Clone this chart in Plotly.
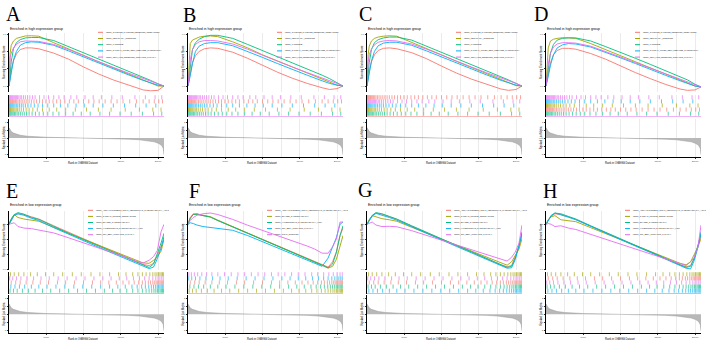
import plotly.graph_objects as go

W, H = 708, 344
N_GENES = 20800

# ---------------- data ----------------
TOP_SETS = ["KEGG_CYTOKINE_CYTOKINE_RECEPTOR_INTERACTION", "KEGG_LEISHMANIA_INFECTION",
            "KEGG_LYSOSOME", "KEGG_NATURAL_KILLER_CELL_MEDIATED_CYTOTOXICITY",
            "KEGG_TOLL_LIKE_RECEPTOR_SIGNALING_PATHWAY"]
LOW_SETS = ["KEGG_ARRHYTHMOGENIC_RIGHT_VENTRICULAR_CARDIOMYOPATHY_ARVC", "KEGG_CARDIAC_MUSCLE_CONTRACTION",
            "KEGG_DILATED_CARDIOMYOPATHY", "KEGG_HYPERTROPHIC_CARDIOMYOPATHY_HCM",
            "KEGG_TGF_BETA_SIGNALING_PATHWAY"]
F_SETS = ["KEGG_ARRHYTHMOGENIC_RIGHT_VENTRICULAR_CARDIOMYOPATHY_ARVC", "KEGG_DILATED_CARDIOMYOPATHY",
          "KEGG_HYPERTROPHIC_CARDIOMYOPATHY_HCM", "KEGG_TGF_BETA_SIGNALING_PATHWAY", "KEGG_TIGHT_JUNCTION"]

RANK_TOP = [0, 150, 300, 600, 1000, 1500, 2200, 3000, 4000, 6000, 8000, 10000, 12000, 14000, 16000, 18000, 19000, 20000, 20800]
RANK_BOT = [0, 300, 700, 1200, 2000, 3000, 4000, 6000, 8000, 10000, 12000, 14000, 16000, 17000, 18000, 18800, 19400, 19900, 20400, 20800]

A_CYTOKINE = [0, 0.10, 0.18, 0.29, 0.37, 0.42, 0.44, 0.44, 0.43, 0.38, 0.31, 0.22, 0.14, 0.07, 0.01, -0.045, -0.055, -0.05, 0.0]
A_LEISHMANIA = [0, 0.38, 0.47, 0.52, 0.55, 0.565, 0.578, 0.58, 0.575, 0.50, 0.43, 0.355, 0.28, 0.21, 0.14, 0.07, 0.035, 0.0, 0.0]
A_LYSOSOME = [0, 0.15, 0.28, 0.43, 0.50, 0.535, 0.555, 0.56, 0.56, 0.525, 0.455, 0.385, 0.315, 0.245, 0.175, 0.105, 0.065, 0.025, 0.0]
A_NK = [0, 0.08, 0.16, 0.30, 0.40, 0.47, 0.50, 0.51, 0.505, 0.47, 0.405, 0.335, 0.265, 0.195, 0.13, 0.065, 0.035, 0.01, 0.0]
A_TOLL = [0, 0.33, 0.38, 0.44, 0.48, 0.51, 0.52, 0.52, 0.515, 0.48, 0.42, 0.35, 0.28, 0.215, 0.15, 0.09, 0.055, 0.03, 0.0]

B_CYTOKINE = [0, 0.08, 0.16, 0.27, 0.35, 0.40, 0.43, 0.44, 0.435, 0.39, 0.32, 0.24, 0.16, 0.09, 0.03, -0.02, -0.04, -0.03, 0.0]
B_LEISHMANIA = [0, 0.35, 0.49, 0.53, 0.55, 0.565, 0.575, 0.578, 0.57, 0.51, 0.44, 0.36, 0.29, 0.22, 0.15, 0.08, 0.045, 0.01, 0.0]
B_LYSOSOME = [0, 0.12, 0.25, 0.42, 0.50, 0.54, 0.57, 0.585, 0.585, 0.55, 0.48, 0.41, 0.34, 0.27, 0.20, 0.125, 0.085, 0.04, 0.0]
B_NK = [0, 0.05, 0.12, 0.26, 0.40, 0.46, 0.49, 0.50, 0.50, 0.465, 0.40, 0.33, 0.26, 0.19, 0.125, 0.06, 0.03, 0.01, 0.0]
B_TOLL = [0, 0.20, 0.30, 0.42, 0.48, 0.51, 0.525, 0.525, 0.52, 0.485, 0.425, 0.355, 0.285, 0.22, 0.155, 0.095, 0.06, 0.03, 0.0]

C_CYTOKINE = [0, 0.09, 0.17, 0.28, 0.36, 0.41, 0.435, 0.44, 0.43, 0.385, 0.315, 0.23, 0.15, 0.08, 0.02, -0.035, -0.05, -0.04, 0.0]
C_LEISHMANIA = [0, 0.36, 0.46, 0.52, 0.55, 0.565, 0.575, 0.58, 0.575, 0.505, 0.435, 0.36, 0.285, 0.215, 0.145, 0.075, 0.04, 0.005, 0.0]
C_LYSOSOME = [0, 0.14, 0.27, 0.42, 0.50, 0.535, 0.555, 0.565, 0.565, 0.53, 0.46, 0.39, 0.32, 0.25, 0.18, 0.11, 0.07, 0.03, 0.0]
C_NK = [0, 0.07, 0.15, 0.29, 0.40, 0.465, 0.495, 0.505, 0.505, 0.47, 0.405, 0.335, 0.265, 0.195, 0.13, 0.065, 0.035, 0.01, 0.0]
C_TOLL = [0, 0.28, 0.36, 0.43, 0.475, 0.505, 0.52, 0.525, 0.52, 0.485, 0.425, 0.355, 0.285, 0.22, 0.155, 0.095, 0.06, 0.03, 0.0]

D_CYTOKINE = [0, 0.07, 0.15, 0.27, 0.36, 0.41, 0.435, 0.435, 0.425, 0.375, 0.31, 0.23, 0.155, 0.085, 0.02, -0.035, -0.05, -0.045, -0.01]
D_LEISHMANIA = [0, 0.30, 0.44, 0.52, 0.54, 0.55, 0.557, 0.555, 0.55, 0.49, 0.42, 0.35, 0.28, 0.21, 0.14, 0.07, 0.035, 0.0, -0.01]
D_LYSOSOME = [0, 0.10, 0.22, 0.38, 0.48, 0.53, 0.55, 0.557, 0.555, 0.52, 0.455, 0.39, 0.32, 0.25, 0.18, 0.11, 0.07, 0.02, -0.01]
D_NK = [0, 0.05, 0.11, 0.24, 0.36, 0.44, 0.475, 0.49, 0.485, 0.45, 0.39, 0.325, 0.26, 0.19, 0.125, 0.06, 0.03, 0.0, -0.01]
D_TOLL = [0, 0.15, 0.25, 0.38, 0.45, 0.485, 0.50, 0.50, 0.495, 0.46, 0.40, 0.335, 0.27, 0.205, 0.14, 0.08, 0.045, 0.015, -0.01]

E_ARVC = [0, 0.06, 0.12, 0.14, 0.13, 0.10, 0.07, -0.02, -0.11, -0.195, -0.28, -0.365, -0.45, -0.49, -0.535, -0.55, -0.52, -0.42, -0.30, -0.20]
E_CARDIAC = [0, 0.07, 0.13, 0.09, 0.07, 0.055, 0.04, -0.04, -0.12, -0.20, -0.28, -0.36, -0.44, -0.48, -0.515, -0.52, -0.48, -0.43, -0.36, -0.20]
E_DILATED = [0, 0.07, 0.13, 0.155, 0.135, 0.09, 0.065, -0.03, -0.12, -0.205, -0.29, -0.375, -0.46, -0.50, -0.545, -0.575, -0.53, -0.40, -0.25, -0.12]
E_HCM = [0, 0.06, 0.12, 0.14, 0.12, 0.08, 0.05, -0.045, -0.135, -0.22, -0.305, -0.39, -0.475, -0.515, -0.56, -0.59, -0.57, -0.46, -0.32, -0.16]
E_TGF = [0, 0.01, 0.02, -0.03, -0.05, -0.058, -0.08, -0.115, -0.18, -0.245, -0.31, -0.38, -0.45, -0.49, -0.515, -0.48, -0.43, -0.35, -0.10, 0.0]

F_ARVC = [0, 0.09, 0.14, 0.13, 0.115, 0.10, 0.05, -0.035, -0.12, -0.20, -0.285, -0.37, -0.455, -0.50, -0.54, -0.57, -0.50, -0.37, -0.15, -0.05]
F_DILATED = [0, 0.08, 0.13, 0.14, 0.12, 0.10, 0.055, -0.03, -0.115, -0.20, -0.285, -0.37, -0.455, -0.50, -0.545, -0.585, -0.56, -0.47, -0.28, -0.15]
F_HCM = [0, 0.08, 0.13, 0.135, 0.115, 0.095, 0.05, -0.035, -0.12, -0.205, -0.29, -0.375, -0.46, -0.505, -0.55, -0.58, -0.53, -0.38, -0.15, -0.02]
F_TGF = [0, 0.02, 0.01, -0.01, -0.03, -0.04, -0.05, -0.08, -0.15, -0.23, -0.32, -0.40, -0.48, -0.52, -0.56, -0.45, -0.30, -0.18, 0.0, 0.03]
F_TIGHT = [0, 0.05, 0.09, 0.12, 0.14, 0.15, 0.13, 0.065, -0.012, -0.08, -0.15, -0.22, -0.29, -0.33, -0.385, -0.385, -0.30, -0.20, 0.03, 0.03]

G_ARVC = [0, 0.06, 0.115, 0.15, 0.135, 0.10, 0.065, -0.025, -0.115, -0.20, -0.285, -0.37, -0.455, -0.50, -0.54, -0.565, -0.55, -0.43, -0.30, -0.14]
G_CARDIAC = [0, 0.06, 0.115, 0.10, 0.075, 0.06, 0.04, -0.04, -0.12, -0.20, -0.28, -0.36, -0.44, -0.48, -0.52, -0.545, -0.50, -0.42, -0.33, -0.19]
G_DILATED = [0, 0.06, 0.12, 0.155, 0.14, 0.105, 0.07, -0.02, -0.11, -0.195, -0.28, -0.365, -0.45, -0.495, -0.54, -0.575, -0.56, -0.45, -0.28, -0.12]
G_HCM = [0, 0.05, 0.11, 0.145, 0.125, 0.09, 0.055, -0.035, -0.125, -0.21, -0.295, -0.38, -0.465, -0.51, -0.555, -0.585, -0.58, -0.47, -0.28, -0.10]
G_TGF = [0, 0.01, 0.03, -0.01, -0.03, -0.027, -0.033, -0.085, -0.148, -0.212, -0.276, -0.34, -0.40, -0.435, -0.467, -0.49, -0.44, -0.37, -0.25, -0.01]

H_ARVC = [0, 0.06, 0.11, 0.14, 0.13, 0.10, 0.065, -0.025, -0.115, -0.20, -0.285, -0.37, -0.455, -0.50, -0.54, -0.565, -0.55, -0.45, -0.30, -0.15]
H_CARDIAC = [0, 0.06, 0.10, 0.115, 0.06, 0.05, 0.035, -0.045, -0.125, -0.205, -0.285, -0.365, -0.445, -0.485, -0.52, -0.54, -0.50, -0.40, -0.30, -0.19]
H_DILATED = [0, 0.06, 0.12, 0.15, 0.14, 0.105, 0.07, -0.02, -0.11, -0.195, -0.28, -0.365, -0.45, -0.495, -0.54, -0.575, -0.56, -0.45, -0.28, -0.12]
H_HCM = [0, 0.05, 0.11, 0.15, 0.13, 0.095, 0.06, -0.03, -0.12, -0.205, -0.29, -0.375, -0.46, -0.505, -0.55, -0.585, -0.595, -0.48, -0.30, -0.10]
H_TGF = [0, 0.01, 0.0, -0.03, -0.02, -0.05, -0.069, -0.133, -0.198, -0.262, -0.327, -0.392, -0.456, -0.49, -0.52, -0.55, -0.50, -0.44, -0.30, -0.01]

# gene-set hit positions (rank in ordered list)
CYTOKINE_HITS = [30, 90, 170, 260, 360, 470, 590, 720, 870, 1030, 1200, 1400, 1620, 1860, 2120, 2400, 2700, 3000, 3350, 3700,
                 4100, 4500, 4950, 5400, 5900, 6400, 6900, 7500, 8100, 8700, 9300, 10000, 10700, 11400, 12100, 12900, 13700,
                 14500, 15300, 16200, 17100, 18000, 18800, 19500, 20100, 20600]
LEISHMANIA_HITS = [20, 70, 130, 200, 290, 390, 510, 640, 800, 970, 1160, 1380, 1650, 1950, 2300, 2700, 3200, 3800, 4500,
                   5400, 6400, 7600, 8900, 10400, 12000, 13700, 15600, 17500, 19300, 20400]
LYSOSOME_HITS = [80, 180, 300, 430, 570, 730, 900, 1090, 1300, 1530, 1780, 2050, 2350, 2700, 3100, 3550, 4050, 4600, 5200,
                 5900, 6700, 7600, 8600, 9700, 10900, 12200, 13500, 14900, 16400, 17900, 19400, 20500]
NK_HITS = [60, 150, 250, 370, 500, 650, 800, 980, 1180, 1400, 1650, 1900, 2200, 2550, 2950, 3400, 3900, 4500, 5200, 6000,
           6900, 7900, 9000, 10100, 11300, 12600, 14000, 15500, 17000, 18400, 19700]
TOLL_HITS = [40, 120, 210, 330, 460, 580, 720, 860, 1000, 1150, 1320, 1500, 1700, 1950, 2200, 2500, 2800, 3150, 3500, 4100,
             4700, 5300, 6000, 6700, 7400, 8300, 9100, 10200, 11300, 12400, 13800, 15200, 16900, 18300, 19600, 20500]
ARVC_HITS = [300, 900, 1500, 2300, 3200, 4200, 5300, 6500, 7600, 8800, 10000, 11200, 12300, 13400, 14400, 15300, 16100,
             16800, 17400, 17900, 18300, 18700, 19000, 19300, 19550, 19750, 19950, 20100, 20250, 20400, 20520, 20640, 20750]
CARDIAC_HITS = [200, 700, 1300, 2000, 2900, 3800, 4900, 6000, 7200, 8500, 9700, 11000, 12200, 13500, 14700, 15700, 16600,
                17300, 17900, 18400, 18900, 19300, 19600, 19850, 20050, 20250, 20430, 20600, 20720]
DILATED_HITS = [150, 600, 1100, 1800, 2600, 3500, 4500, 5600, 6800, 8000, 9200, 10400, 11600, 12800, 13900, 14900, 15800,
                16600, 17300, 17900, 18400, 18800, 19150, 19450, 19700, 19920, 20100, 20280, 20450, 20600, 20730]
HCM_HITS = [250, 800, 1400, 2100, 3000, 4000, 5100, 6300, 7500, 8700, 9900, 11100, 12300, 13500, 14600, 15600, 16500,
            17200, 17800, 18300, 18750, 19100, 19400, 19680, 19900, 20080, 20250, 20420, 20570, 20700]
TGF_HITS = [100, 500, 1000, 1600, 2400, 3300, 4300, 5400, 6600, 7800, 9000, 10200, 11400, 12600, 13700, 14800, 15800,
            16700, 17500, 18200, 18800, 19300, 19700, 20000, 20250, 20500, 20700]
TIGHT_HITS = [120, 450, 850, 1300, 1850, 2500, 3200, 4000, 4900, 5800, 6700, 7600, 8500, 9400, 10300, 11200, 12100, 13000,
              13900, 14800, 15700, 16600, 17400, 18200, 18900, 19500, 20000, 20400, 20700]

# ranked list metric
METRIC_RANK = [1, 100, 300, 600, 1000, 1500, 2500, 3500, 5000, 7000, 9000, 10500, 12000, 14000, 16000, 17500, 18700,
               19500, 20100, 20500, 20700, 20800]
METRIC_VALUE = [1.3, 1.05, 0.8, 0.62, 0.48, 0.35, 0.22, 0.15, 0.09, 0.05, 0.02, 0.0, -0.03, -0.07, -0.14, -0.22, -0.33,
                -0.48, -0.68, -0.95, -1.3, -2.1]

X_TICKS = [5000, 10000, 15000, 20000]
ES_TICKS_HIGH = [0.0, 0.2, 0.4, 0.6]
ES_TICKS_LOW = [-0.6, -0.4, -0.2, 0.0]
METRIC_TICKS = [-2, -1, 0, 1, 2]

HUE = ["#F8766D", "#A3A500", "#00BF7D", "#00B0F6", "#E76BF3"]

TOP_HITS = [CYTOKINE_HITS, LEISHMANIA_HITS, LYSOSOME_HITS, NK_HITS, TOLL_HITS]
LOW_HITS = [ARVC_HITS, CARDIAC_HITS, DILATED_HITS, HCM_HITS, TGF_HITS]
FF_HITS = [ARVC_HITS, DILATED_HITS, HCM_HITS, TGF_HITS, TIGHT_HITS]

PANELS = [
    ("A", "high", TOP_SETS, RANK_TOP, [A_CYTOKINE, A_LEISHMANIA, A_LYSOSOME, A_NK, A_TOLL], TOP_HITS, [4, 0, 3, 1, 2]),
    ("B", "high", TOP_SETS, RANK_TOP, [B_CYTOKINE, B_LEISHMANIA, B_LYSOSOME, B_NK, B_TOLL], TOP_HITS, [4, 0, 3, 1, 2]),
    ("C", "high", TOP_SETS, RANK_TOP, [C_CYTOKINE, C_LEISHMANIA, C_LYSOSOME, C_NK, C_TOLL], TOP_HITS, [0, 4, 3, 1, 2]),
    ("D", "high", TOP_SETS, RANK_TOP, [D_CYTOKINE, D_LEISHMANIA, D_LYSOSOME, D_NK, D_TOLL], TOP_HITS, [4, 3, 1, 0, 2]),
    ("E", "low", LOW_SETS, RANK_BOT, [E_ARVC, E_CARDIAC, E_DILATED, E_HCM, E_TGF], LOW_HITS, [1, 4, 0, 3, 2]),
    ("F", "low", F_SETS, RANK_BOT, [F_ARVC, F_DILATED, F_HCM, F_TGF, F_TIGHT], FF_HITS, [4, 3, 0, 2, 1]),
    ("G", "low", LOW_SETS, RANK_BOT, [G_ARVC, G_CARDIAC, G_DILATED, G_HCM, G_TGF], LOW_HITS, [1, 4, 0, 2, 3]),
    ("H", "low", LOW_SETS, RANK_BOT, [H_ARVC, H_CARDIAC, H_DILATED, H_HCM, H_TGF], LOW_HITS, [1, 0, 4, 2, 3]),
]

# ---------------- layout geometry (pixels) ----------------
COL_X0 = [9, 188, 367, 546]
PW = 155
ROW_Y0 = [0, 176]
LETTER_X = [4, 181, 357, 532, 4, 187, 356, 541]
LETTER_TOP = [0.5, 1.5, 1, 1, 178, 178, 177, 178]
GEOM = {
    "high": dict(es=(33, 92), rug=(95, 117), rk=(118.5, 157), es_range=[-0.069, 0.612], es_ticks=ES_TICKS_HIGH,
                 leg_y=32.3, leg_dy=6.2, leg_dx=89, title_y=29),
    "low": dict(es=(35, 94), rug=(96, 118), rk=(119, 157), es_range=[-0.609, 0.177], es_ticks=ES_TICKS_LOW,
                leg_y=34.3, leg_dy=6.1, leg_dx=79, title_y=29.5),
}
FONT = "Liberation Sans, Arial, sans-serif"
GRID = "#EBEBEB"


def px(xp):
    return xp / W


def py(yp):
    return 1 - yp / H


fig = go.Figure()
layout = {}
annotations = []
shapes = []


def sfx(n):
    return "" if n == 1 else str(n)


tick_font = dict(size=2.4, color="#4D4D4D", family=FONT)
xgrid = dict(range=[0, N_GENES], tick0=0, dtick=5000, showgrid=True, gridcolor=GRID, gridwidth=0.6,
             minor=dict(dtick=2500, showgrid=True, gridcolor=GRID, gridwidth=0.35), zeroline=False,
             automargin=False, fixedrange=True)

for k, (letter, grp, sets, rank, curves, hits, rug_order) in enumerate(PANELS):
    col, row = k % 4, k // 4
    x0 = COL_X0[col]
    oy = ROW_Y0[row]
    g = GEOM[grp]
    xdom = [px(x0), px(x0 + PW)]
    n_es, n_rug, n_rk = 3 * k + 1, 3 * k + 2, 3 * k + 3

    # ES panel
    layout["xaxis" + sfx(n_es)] = dict(domain=xdom, anchor="y" + sfx(n_es), showticklabels=False, ticks="",
                                       showline=False, **xgrid)
    layout["yaxis" + sfx(n_es)] = dict(domain=[py(oy + g["es"][1]), py(oy + g["es"][0])], anchor="x" + sfx(n_es),
                                       range=g["es_range"], tickvals=g["es_ticks"],
                                       ticktext=[f"{v:.1f}" for v in g["es_ticks"]], showline=True,
                                       linecolor="black", linewidth=0.5, ticks="outside", ticklen=1.5,
                                       tickwidth=0.4, tickcolor="#333333", tickfont=tick_font, showgrid=False,
                                       zeroline=False, automargin=False, fixedrange=True)
    for i, ys in enumerate(curves):
        fig.add_trace(go.Scatter(x=rank, y=ys, mode="lines", line=dict(color=HUE[i], width=0.9),
                                 xaxis="x" + sfx(n_es), yaxis="y" + sfx(n_es), showlegend=False,
                                 hoverinfo="skip"))

    # rug panel
    layout["xaxis" + sfx(n_rug)] = dict(domain=xdom, anchor="y" + sfx(n_rug), showticklabels=False, ticks="",
                                        showline=False, **xgrid)
    layout["yaxis" + sfx(n_rug)] = dict(domain=[py(oy + g["rug"][1]), py(oy + g["rug"][0])],
                                        anchor="x" + sfx(n_rug), range=[-0.3, 5.05], showline=True,
                                        linecolor="black", linewidth=0.5, ticks="", showticklabels=False,
                                        showgrid=False, zeroline=False, automargin=False, fixedrange=True)
    for pos, si in enumerate(rug_order):
        level = 4 - pos
        xs, ys = [], []
        for h in hits[si]:
            xs += [h, h, None]
            ys += [level, level + 1, None]
        fig.add_trace(go.Scatter(x=xs, y=ys, mode="lines", line=dict(color=HUE[si], width=0.8), opacity=0.8,
                                 xaxis="x" + sfx(n_rug), yaxis="y" + sfx(n_rug), showlegend=False,
                                 hoverinfo="skip"))
    fig.add_trace(go.Scatter(x=[0, N_GENES], y=[-0.2, -0.2], mode="lines",
                             line=dict(color=HUE[rug_order[0]], width=0.7), opacity=0.8,
                             xaxis="x" + sfx(n_rug), yaxis="y" + sfx(n_rug), showlegend=False, hoverinfo="skip"))

    # ranked list metric panel
    layout["xaxis" + sfx(n_rk)] = dict(domain=xdom, anchor="y" + sfx(n_rk), tickvals=X_TICKS,
                                       ticktext=[str(v) for v in X_TICKS], showline=True, linecolor="black",
                                       linewidth=0.5, ticks="outside", ticklen=1.5, tickwidth=0.4,
                                       tickcolor="#333333", tickfont=tick_font, **xgrid)
    layout["yaxis" + sfx(n_rk)] = dict(domain=[py(oy + g["rk"][1]), py(oy + g["rk"][0])], anchor="x" + sfx(n_rk),
                                       range=[-2.375, 2.44], tickvals=METRIC_TICKS,
                                       ticktext=[str(v) for v in METRIC_TICKS], showline=True, linecolor="black",
                                       linewidth=0.5, ticks="outside", ticklen=1.5, tickwidth=0.4,
                                       tickcolor="#333333", tickfont=tick_font, showgrid=False, zeroline=False,
                                       automargin=False, fixedrange=True)
    fig.add_trace(go.Scatter(x=METRIC_RANK, y=METRIC_VALUE, mode="lines", fill="tozeroy", fillcolor="#B8B8B8",
                             line=dict(color="#999999", width=0.5), xaxis="x" + sfx(n_rk),
                             yaxis="y" + sfx(n_rk), showlegend=False, hoverinfo="skip"))

    # texts
    annotations.append(dict(text=letter, x=px(LETTER_X[k]), y=py(LETTER_TOP[k]), xanchor="left", yanchor="top",
                            font=dict(family="Liberation Serif, Times New Roman, serif", size=20, color="black")))
    annotations.append(dict(text=f"Enriched in {grp} expression group", x=px(x0 - 1), y=py(oy + g["title_y"]),
                            xanchor="left", yanchor="middle", font=dict(family=FONT, size=3.5, color="black")))
    es_mid = oy + (g["es"][0] + g["es"][1]) / 2
    rk_mid = oy + (g["rk"][0] + g["rk"][1]) / 2
    annotations.append(dict(text="Running Enrichment Score", x=px(x0 - 5.5), y=py(es_mid), textangle=-90,
                            xanchor="center", yanchor="middle", font=dict(family=FONT, size=2.8, color="black")))
    annotations.append(dict(text="Ranked List Metric", x=px(x0 - 5.5), y=py(rk_mid), textangle=-90,
                            xanchor="center", yanchor="middle", font=dict(family=FONT, size=2.8, color="black")))
    annotations.append(dict(text="Rank in Ordered Dataset", x=px(x0 + PW / 2 - 4), y=py(oy + 163),
                            xanchor="center", yanchor="middle", font=dict(family=FONT, size=2.7, color="black")))
    # legend
    for i, name in enumerate(sets):
        yy = oy + g["leg_y"] + g["leg_dy"] * i
        lx = x0 + g["leg_dx"]
        shapes.append(dict(type="line", xref="paper", yref="paper", x0=px(lx), x1=px(lx + 5), y0=py(yy), y1=py(yy),
                           line=dict(color=HUE[i], width=1)))
        annotations.append(dict(text=name, x=px(lx + 6), y=py(yy), xanchor="left", yanchor="middle",
                                font=dict(family=FONT, size=1.95, color="#1A1A1A")))

for a in annotations:
    a.update(xref="paper", yref="paper", showarrow=False)

fig.update_layout(
    template="none",
    width=W, height=H,
    margin=dict(l=0, r=0, t=0, b=0, pad=0),
    paper_bgcolor="white", plot_bgcolor="white",
    showlegend=False,
    annotations=annotations,
    shapes=shapes,
    **layout,
)

fig.write_html("out.html")
